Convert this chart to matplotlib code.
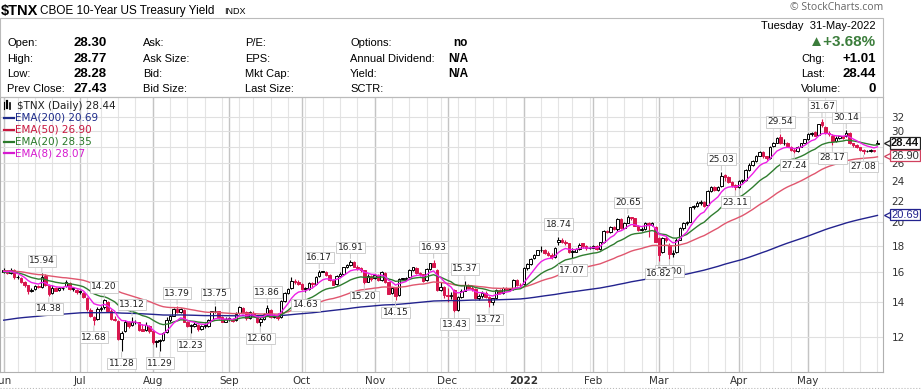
import numpy as np
import pandas as pd
import matplotlib
matplotlib.use("Agg")
import matplotlib.pyplot as plt
from matplotlib.transforms import blended_transform_factory
from matplotlib.patches import Rectangle
from matplotlib.lines import Line2D

# trading calendar (stock market holidays removed)
holidays = ["2021-07-05", "2021-09-06", "2021-11-25", "2021-12-24",
            "2022-01-17", "2022-02-21", "2022-04-15", "2022-05-30"]
dates = pd.bdate_range("2021-06-01", "2022-05-31")
dates = dates[~dates.isin(pd.to_datetime(holidays))]

# daily OHLC, one line per month
opens = [
    16.00, 16.15, 15.95, 16.20, 15.65, 15.60, 15.35, 15.10, 14.70, 14.85, 15.05, 15.00, 15.75, 15.10, 14.60, 14.95, 14.80, 14.90, 15.05, 15.25, 14.85, 14.80,
    14.65, 14.60, 14.30, 13.55, 13.10, 13.00, 13.60, 13.70, 14.05, 13.45, 13.00, 12.90, 11.90, 12.30, 12.80, 12.65, 12.80, 12.80, 12.45, 12.40, 12.60,
    12.30, 11.75, 11.80, 11.85, 12.25, 12.95, 13.20, 13.60, 13.40, 13.55, 12.85, 12.60, 12.60, 12.65, 12.45, 12.60, 12.60, 12.95, 13.45, 13.45, 13.10, 12.85,
    13.00, 13.00, 12.95, 13.35, 13.65, 13.40, 13.05, 13.35, 13.20, 12.80, 13.00, 13.35, 13.55, 13.10, 13.25, 13.10, 14.10, 14.60, 14.90, 15.40, 15.35,
    15.20, 14.85, 14.85, 15.25, 15.20, 15.75, 16.05, 16.05, 15.80, 15.45, 15.20, 15.75, 15.90, 16.35, 16.55, 16.75, 16.40, 16.30, 16.15, 15.35, 15.75,
    15.60, 15.80, 15.45, 15.95, 15.30, 14.60, 14.90, 14.45, 15.55, 15.55, 15.65, 16.20, 16.30, 15.95, 15.85, 15.45, 16.25, 16.65, 16.20, 14.80, 15.00,
    14.45, 14.40, 14.80, 13.55, 14.35, 14.75, 15.15, 14.95, 14.85, 14.25, 14.40, 14.60, 14.35, 14.05, 14.25, 14.80, 14.60, 14.95, 14.80, 14.85, 15.45, 15.15,
    15.20, 16.30, 16.60, 17.05, 17.30, 17.65, 17.70, 17.45, 17.30, 17.10, 18.30, 18.45, 18.30, 18.20, 17.50, 17.55, 17.75, 18.20, 17.95, 17.80,
    17.85, 18.00, 17.75, 18.30, 19.20, 19.15, 19.60, 19.40, 20.30, 19.50, 19.95, 20.45, 20.35, 19.70, 19.30, 19.40, 19.95, 19.75, 19.60,
    18.60, 17.50, 18.60, 18.10, 17.35, 17.50, 18.50, 19.50, 19.90, 20.05, 21.35, 21.50, 21.80, 21.90, 21.60, 23.00, 23.35, 23.10, 23.45, 24.70, 24.45, 23.90, 23.55,
    23.40, 24.00, 24.10, 25.20, 25.80, 26.20, 26.90, 27.30, 26.80, 26.60, 28.10, 28.50, 29.20, 28.40, 28.50, 28.00, 27.60, 27.40, 28.00, 28.40,
    28.90, 29.60, 29.90, 29.50, 31.20, 30.60, 29.80, 29.40, 28.70, 29.10, 29.30, 29.30, 29.80, 28.40, 28.20, 27.90, 27.60, 27.40, 27.45, 27.50, 28.30,
]
highs = [
    16.30, 16.20, 16.30, 16.25, 15.80, 15.65, 15.40, 15.15, 14.95, 15.15, 15.10, 15.94, 15.85, 15.20, 15.10, 15.00, 15.00, 15.00, 15.45, 15.30, 14.95, 14.85,
    14.80, 14.65, 14.35, 13.65, 13.20, 13.70, 13.75, 14.20, 14.10, 13.60, 13.20, 12.95, 12.30, 12.95, 12.90, 13.12, 12.95, 12.85, 12.70, 12.80, 12.65,
    12.35, 11.85, 11.90, 12.25, 13.10, 13.25, 13.65, 13.79, 13.65, 13.60, 12.90, 12.70, 12.85, 12.70, 12.65, 12.75, 13.00, 13.50, 13.75, 13.50, 13.15, 13.10,
    13.10, 13.05, 13.40, 13.80, 13.70, 13.45, 13.45, 13.45, 13.25, 13.10, 13.35, 13.86, 13.60, 13.30, 13.35, 14.15, 14.65, 14.95, 15.65, 15.55, 15.45,
    15.25, 15.00, 15.30, 15.30, 15.75, 16.17, 16.05, 16.10, 15.85, 15.50, 15.80, 16.05, 16.40, 16.60, 16.91, 16.80, 16.50, 16.40, 16.20, 15.85, 15.80,
    15.90, 15.85, 16.10, 16.00, 15.35, 15.00, 14.95, 15.60, 15.55, 15.70, 16.25, 16.40, 16.35, 16.00, 15.90, 16.30, 16.70, 16.93, 16.25, 15.35, 15.05,
    14.90, 14.65, 14.85, 14.40, 14.85, 15.37, 15.20, 15.05, 14.90, 14.50, 14.75, 14.70, 14.40, 14.30, 14.85, 14.85, 15.00, 15.00, 14.95, 15.50, 15.55, 15.25,
    16.35, 16.65, 17.05, 17.35, 17.70, 17.95, 17.75, 17.60, 17.45, 17.90, 18.74, 18.60, 18.45, 18.25, 17.80, 17.85, 18.20, 18.25, 18.05, 18.00,
    18.10, 18.05, 18.35, 19.30, 19.30, 19.70, 19.65, 20.40, 20.35, 20.00, 20.65, 20.50, 20.40, 19.75, 19.55, 20.00, 20.05, 20.00, 19.65,
    18.70, 18.75, 18.80, 18.20, 17.65, 18.60, 19.55, 20.00, 20.10, 21.40, 21.60, 22.00, 22.10, 22.00, 23.10, 23.50, 23.45, 23.50, 25.03, 24.80, 24.55, 24.00, 23.75,
    24.10, 24.20, 25.30, 26.00, 26.40, 26.95, 27.40, 27.45, 26.90, 28.10, 28.60, 29.20, 29.54, 29.00, 28.60, 28.10, 27.80, 28.10, 28.50, 29.00,
    29.70, 29.90, 30.00, 31.00, 31.67, 30.70, 30.00, 29.60, 29.30, 29.40, 29.40, 30.14, 29.90, 28.50, 28.30, 28.00, 27.70, 27.60, 27.70, 27.60, 28.77,
]
lows = [
    15.95, 15.85, 15.90, 15.55, 15.55, 15.25, 15.00, 14.55, 14.65, 14.80, 14.90, 14.95, 15.05, 14.38, 14.55, 14.70, 14.75, 14.80, 15.00, 14.80, 14.75, 14.55,
    14.50, 14.25, 13.50, 13.10, 12.68, 12.95, 13.50, 13.60, 13.40, 12.95, 12.90, 11.85, 11.28, 12.25, 12.50, 12.60, 12.70, 12.35, 12.30, 12.35, 12.20,
    11.65, 11.50, 11.29, 11.80, 12.20, 12.85, 13.15, 13.35, 13.35, 12.80, 12.55, 12.23, 12.55, 12.35, 12.40, 12.50, 12.55, 12.90, 13.35, 13.00, 12.80, 12.80,
    12.90, 12.85, 12.90, 13.30, 13.35, 12.95, 13.00, 13.15, 12.75, 12.60, 12.95, 13.30, 13.05, 13.05, 12.95, 13.05, 14.00, 14.55, 14.85, 15.20, 15.10,
    14.80, 14.63, 14.80, 14.90, 15.15, 15.70, 16.05, 15.75, 15.40, 15.10, 15.15, 15.70, 15.85, 16.30, 16.45, 16.35, 16.20, 16.05, 15.20, 15.30, 15.40,
    15.55, 15.40, 15.40, 15.25, 14.50, 14.55, 14.15, 14.40, 15.55, 15.45, 15.60, 16.10, 15.90, 15.75, 15.30, 15.40, 16.20, 16.35, 14.75, 14.75, 14.30,
    14.00, 14.20, 13.43, 13.50, 14.30, 14.70, 14.85, 14.70, 14.20, 14.15, 14.30, 14.25, 13.72, 13.85, 14.20, 14.50, 14.55, 14.75, 14.70, 14.80, 15.05, 15.00,
    15.15, 16.20, 16.55, 16.95, 17.25, 17.55, 17.35, 17.20, 16.95, 17.05, 18.05, 18.20, 18.10, 17.45, 17.07, 17.50, 17.70, 17.85, 17.70, 17.75,
    17.85, 17.65, 17.70, 18.25, 19.05, 19.10, 19.30, 19.20, 19.40, 19.45, 19.90, 20.20, 19.65, 19.25, 19.20, 19.35, 18.75, 19.65, 18.30,
    16.82, 17.40, 18.30, 17.00, 17.10, 17.45, 18.45, 19.35, 19.75, 20.00, 21.20, 21.40, 21.60, 21.40, 21.55, 22.90, 22.95, 23.00, 23.40, 24.00, 23.85, 23.40, 23.11,
    23.30, 23.80, 24.05, 25.10, 25.70, 26.10, 26.80, 26.60, 26.40, 26.50, 28.00, 28.40, 28.30, 28.20, 28.00, 27.50, 27.24, 27.35, 27.90, 28.35,
    28.85, 29.40, 29.30, 29.45, 30.60, 29.60, 29.40, 28.17, 28.60, 28.90, 28.90, 29.20, 28.35, 28.00, 27.80, 27.40, 27.08, 27.30, 27.30, 27.35, 28.28,
]
closes = [
    16.15, 15.95, 16.20, 15.65, 15.70, 15.35, 15.10, 14.70, 14.80, 15.05, 15.00, 15.70, 15.15, 14.55, 14.95, 14.75, 14.90, 14.90, 15.30, 14.85, 14.85, 14.65,
    14.65, 14.35, 13.60, 13.20, 12.95, 13.60, 13.65, 14.15, 13.45, 13.00, 12.95, 11.90, 12.20, 12.85, 12.60, 12.80, 12.85, 12.40, 12.35, 12.65, 12.30,
    11.75, 11.75, 11.80, 12.20, 12.95, 13.20, 13.60, 13.40, 13.60, 12.85, 12.60, 12.60, 12.70, 12.45, 12.60, 12.60, 12.95, 13.45, 13.45, 13.10, 12.85, 13.00,
    13.00, 12.90, 13.30, 13.70, 13.40, 13.05, 13.40, 13.20, 12.80, 13.00, 13.30, 13.65, 13.10, 13.25, 13.05, 14.10, 14.60, 14.85, 15.40, 15.35, 15.20,
    14.85, 14.85, 15.25, 15.20, 15.70, 16.05, 16.05, 15.80, 15.45, 15.15, 15.75, 15.90, 16.35, 16.50, 16.75, 16.40, 16.30, 16.15, 15.35, 15.75, 15.55,
    15.80, 15.45, 16.00, 15.30, 14.55, 14.90, 14.40, 15.55, 15.55, 15.60, 16.20, 16.35, 15.95, 15.90, 15.40, 16.25, 16.65, 16.40, 14.80, 15.00, 14.45,
    14.40, 14.45, 13.55, 14.35, 14.75, 15.15, 14.95, 14.85, 14.25, 14.40, 14.60, 14.35, 14.05, 14.25, 14.80, 14.60, 14.95, 14.80, 14.85, 15.45, 15.15, 15.10,
    16.30, 16.60, 17.00, 17.30, 17.65, 17.70, 17.45, 17.30, 17.10, 17.80, 18.45, 18.30, 18.25, 17.50, 17.60, 17.75, 18.10, 17.95, 17.80, 17.85,
    18.00, 17.75, 18.30, 19.20, 19.15, 19.60, 19.40, 20.30, 19.50, 19.95, 20.45, 20.35, 19.70, 19.30, 19.40, 19.95, 19.75, 19.90, 18.35,
    17.25, 18.60, 18.50, 17.35, 17.45, 18.50, 19.50, 19.90, 20.00, 21.35, 21.50, 21.80, 21.90, 21.50, 23.00, 23.35, 23.10, 23.35, 24.60, 24.45, 23.90, 23.55, 23.35,
    24.00, 24.10, 25.20, 25.80, 26.20, 26.90, 27.30, 26.80, 26.60, 28.00, 28.50, 29.10, 28.40, 28.50, 28.10, 27.60, 27.40, 28.00, 28.40, 28.90,
    29.60, 29.70, 29.40, 30.90, 30.75, 29.80, 29.60, 28.70, 29.10, 29.30, 29.10, 29.80, 28.40, 28.20, 27.90, 27.60, 27.40, 27.45, 27.50, 27.43, 28.44,
]

# EMA starting levels read at the left edge of the chart
ema_periods = [200, 50, 20, 8]
ema_seeds = [12.9, 16.1, 16.0, 16.05]
ema_colors = ["#23238e", "#e0566e", "#2f7d2f", "#ee1fe6"]
ema_labels = ["EMA(200) 20.69", "EMA(50) 26.90", "EMA(20) 28.35", "EMA(8) 28.07"]
ema_text_colors = ["#1c2a8a", "#c8163e", "#2a7a2a", "#d61ad0"]

# swing high / low labels: (bar index, value)
peak_idx = [11, 29, 37, 50, 61, 76, 91, 100, 124, 133, 160, 180, 207, 224, 236, 243]
peak_vals = ["15.94", "14.20", "13.12", "13.79", "13.75", "13.86", "16.17", "16.91",
             "16.93", "15.37", "18.74", "20.65", "25.03", "29.54", "31.67", "30.14"]
trough_idx = [13, 26, 34, 45, 54, 74, 87, 104, 113, 130, 140, 164, 192, 189, 211, 228, 239, 248]
trough_vals = ["14.38", "12.68", "11.28", "11.29", "12.23", "12.60", "14.63", "15.20", "14.15",
               "13.43", "13.72", "17.07", "17.00", "16.82", "23.11", "27.24", "28.17", "27.08"]

month_names = ["Jun", "Jul", "Aug", "Sep", "Oct", "Nov", "Dec", "2022", "Feb", "Mar", "Apr", "May"]
ytick_vals = [12, 14, 16, 18, 20, 22, 24, 26, 28, 30, 32]

W, H = 921, 389


def fx(px):
    return px / W


def fy(py):
    return 1 - py / H


fig = plt.figure(figsize=(W / 100, H / 100), dpi=100)
ax = fig.add_axes([0, fy(372), fx(883), (372 - 97) / H])

n = len(closes)
x = np.arange(n)
o = np.array(opens)
c = np.array(closes)
hi = np.array(highs)
lo = np.array(lows)

# grid: weekly light lines, monthly darker lines
week_start = [i for i in range(n) if i == 0 or dates[i].weekday() < dates[i - 1].weekday()]
month_start = [i for i in range(n) if i == 0 or dates[i].month != dates[i - 1].month]
for i in week_start:
    ax.axvline(i, color="#e4e4e4", lw=0.8, zorder=0)
for i in month_start:
    ax.axvline(i, color="#c4c4c4", lw=1.0, zorder=0)
for v in ytick_vals:
    ax.axhline(v, color="#e0e0e0", lw=0.8, zorder=0)

# candles
red = "#d8164e"
prev = np.concatenate([[o[0]], c[:-1]])
cols = np.where(c >= prev, "black", red)
ax.vlines(x, lo, hi, colors=cols, lw=0.8, zorder=2)
for i in range(n):
    b0, b1 = min(o[i], c[i]), max(o[i], c[i])
    if b1 - b0 < b0 * 0.003:
        b1 = b0 * 1.003
    face = "white" if c[i] > o[i] else cols[i]
    ax.bar(x[i], b1 - b0, bottom=b0, width=0.72, facecolor=face,
           edgecolor=cols[i], lw=0.7, zorder=3)

# EMAs
for p, seed, col in zip(ema_periods, ema_seeds, ema_colors):
    ema = pd.Series([seed] + closes).ewm(span=p, adjust=False).mean().iloc[1:]
    ax.plot(x, ema.values, color=col, lw=1.0, zorder=4)

# swing labels
box = dict(boxstyle="square,pad=0.15", fc="white", ec="#c6c6c6", lw=0.6)
arrow = dict(arrowstyle="-", color="#c6c6c6", lw=0.7, shrinkA=0, shrinkB=1)
for i, t in zip(peak_idx, peak_vals):
    ax.annotate(t, xy=(i, float(t)), xytext=(0, 9), textcoords="offset points",
                ha="center", va="center", fontsize=6.5, color="#222222",
                bbox=box, arrowprops=arrow, zorder=6)
for i, t in zip(trough_idx, trough_vals):
    ax.annotate(t, xy=(i, float(t)), xytext=(0, -9), textcoords="offset points",
                ha="center", va="center", fontsize=6.5, color="#222222",
                bbox=box, arrowprops=arrow, zorder=6)

ax.set_yscale("log")
ax.set_ylim(10.27, 34.9)
ax.set_xlim(-1.07, 253.6)
ax.yaxis.tick_right()
ax.set_yticks(ytick_vals)
ax.set_yticklabels([str(v) for v in ytick_vals])
ax.yaxis.set_minor_locator(matplotlib.ticker.NullLocator())
ax.tick_params(axis="y", length=0, pad=6, labelsize=7.5, labelcolor="#333333")
ax.set_xticks(month_start)
ax.set_xticklabels(month_names)
ax.tick_params(axis="x", length=0, pad=3, labelsize=7.5, labelcolor="#333333")
for lab in ax.get_xticklabels():
    if lab.get_text() == "2022":
        lab.set_fontweight("bold")
for s in ax.spines.values():
    s.set_color("#b0b0b0")
    s.set_linewidth(0.8)

# value tags on the right edge
hdr = ["Liberation Sans", "DejaVu Sans"]
tr = blended_transform_factory(ax.transAxes, ax.transData)
tags = [(28.44, "28.44", "#222222", "#111111", "bold"),
        (26.90, "26.90", "#d0405e", "#333333", "normal"),
        (20.69, "20.69", "#23238e", "#23238e", "normal")]
for v, t, ec, tc, fw in tags:
    ax.text(1.0 + 8 / 883, v, t, transform=tr, ha="left", va="center", fontsize=8,
            fontweight=fw, color=tc, family=hdr, clip_on=False, zorder=8,
            bbox=dict(boxstyle="square,pad=0.08", fc="white", ec=ec, lw=0.9))
    ax.plot([1.0 + 4 / 883], [v], marker="<", ms=4.2, mfc="white", mec=ec, mew=0.9,
            transform=tr, clip_on=False, zorder=9)

# legend in top-left of the chart
fig.add_artist(Line2D([fx(4), fx(4)], [fy(102), fy(109)], color="black", lw=0.8))
fig.add_artist(Line2D([fx(7), fx(7)], [fy(101), fy(108)], color="black", lw=1.6))
fig.add_artist(Line2D([fx(10), fx(10)], [fy(103), fy(109)], color="black", lw=1.2))
fig.text(fx(17), fy(106), "$TNX (Daily) 28.44", fontsize=7.5, color="#222222", va="center")
for k, (lab, col) in enumerate(zip(ema_labels, ema_text_colors)):
    yy = fy(118 + 11.8 * k)
    fig.add_artist(Line2D([fx(4), fx(14)], [yy, yy], color=col, lw=1.6))
    fig.text(fx(15), yy, lab, fontsize=7.5, color=col, va="center")

# header
fig.text(fx(1), fy(11), "$TNX", fontsize=10.5, fontweight="bold", family=hdr, va="center")
fig.text(fx(40), fy(11), "CBOE 10-Year US Treasury Yield", fontsize=8.5, family=hdr, va="center")
fig.text(fx(224), fy(11.5), "INDX", fontsize=6.5, family=hdr, va="center")
fig.text(fx(883), fy(8), "\u00a9 StockCharts.com", fontsize=7.5, color="#666666",
         family=["Open Sans", "DejaVu Sans"], ha="right", va="center")
fig.add_artist(Rectangle((0, fy(97)), fx(883), (97 - 18) / H, transform=fig.transFigure,
                         fc="none", ec="#bbbbbb", lw=0.8))

rows = [43, 59, 74, 89]
col1 = ["Open:", "High:", "Low:", "Prev Close:"]
col1v = ["28.30", "28.77", "28.28", "27.43"]
col2 = ["Ask:", "Ask Size:", "Bid:", "Bid Size:"]
col3 = ["P/E:", "EPS:", "Mkt Cap:", "Last Size:"]
col4 = ["Options:", "Annual Dividend:", "Yield:", "SCTR:"]
col4v = ["no", "N/A", "N/A", ""]
for r, a, av, b, cc, d, dv in zip(rows, col1, col1v, col2, col3, col4, col4v):
    fig.text(fx(7), fy(r), a, fontsize=8, family=hdr, va="center")
    fig.text(fx(73), fy(r), av, fontsize=9.5, fontweight="bold", family=hdr, va="center")
    fig.text(fx(143), fy(r), b, fontsize=8, family=hdr, va="center")
    fig.text(fx(245), fy(r), cc, fontsize=8, family=hdr, va="center")
    fig.text(fx(350), fy(r), d, fontsize=8, family=hdr, va="center")
    fig.text(fx(468), fy(r), dv, fontsize=8.5, fontweight="bold", family=hdr, ha="right", va="center")

fig.text(fx(876), fy(26), "Tuesday  31-May-2022", fontsize=8, family=hdr, ha="right", va="center")
fig.text(fx(876), fy(42), "\u25b2+3.68%", fontsize=11, fontweight="bold", color="#3b7d3b",
         family=hdr, ha="right", va="center")
right_lab = ["Chg:", "Last:", "Volume:"]
right_val = ["+1.01", "28.44", "0"]
for r, a, v in zip(rows[1:], right_lab, right_val):
    fig.text(fx(801), fy(r), a, fontsize=8, family=hdr, va="center")
    fig.text(fx(876), fy(r), v, fontsize=9.5, fontweight="bold", family=hdr, ha="right", va="center")

fig.add_artist(Line2D([0, 1], [fy(388), fy(388)], color="#bbbbbb", lw=0.8, ls=":"))

fig.savefig("out.png", dpi=100)
